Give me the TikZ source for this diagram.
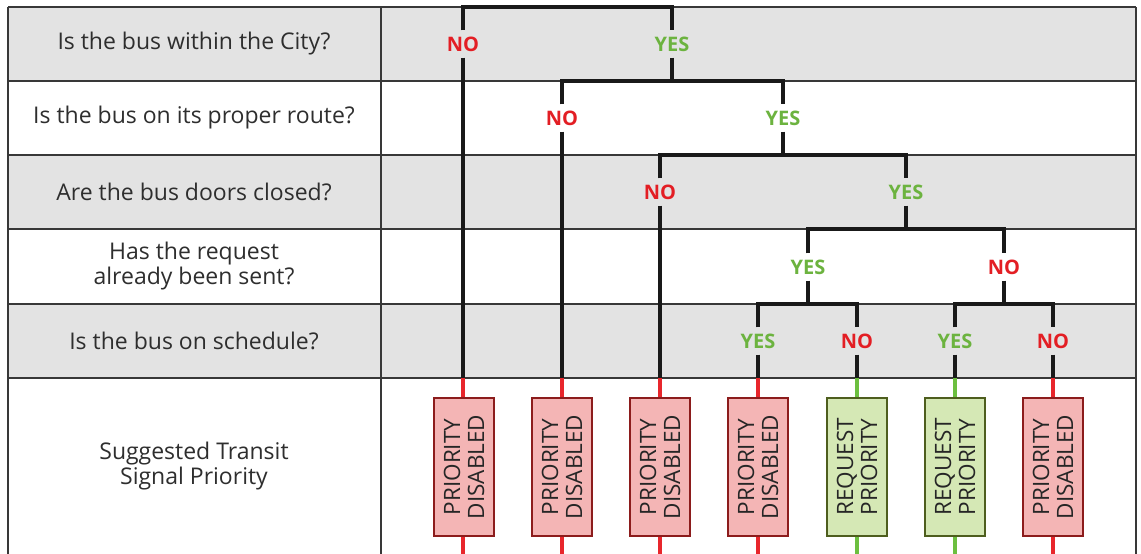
\documentclass[tikz,border=0pt]{standalone}
\usepackage{fontspec}
\setmainfont{Open Sans}
\begin{document}
\begin{tikzpicture}[x=1pt,y=-1pt,
  gridline/.style={draw=black!78,line width=1.4pt},
  rowfill/.style={fill=black!11,draw=none},
  question/.style={align=center,font=\fontsize{23}{25}\selectfont,text=black!82},
  nolab/.style={font=\bfseries\fontsize{20}{21}\selectfont,text=nored,inner sep=6pt},
  yeslab/.style={font=\bfseries\fontsize{20}{21}\selectfont,text=yesgreen,inner sep=6pt},
  tree/.style={draw=black!90,line width=3.6pt},
  redline/.style={draw=linered,line width=3.6pt},
  greenline/.style={draw=linegreen,line width=3.6pt},
  disbox/.style={draw=boxredline,fill=boxred,line width=1.5pt,minimum width=138pt,minimum height=60pt,rotate=90,align=center,font=\fontsize{22.5}{24}\selectfont,text=black!85,inner sep=0pt},
  reqbox/.style={draw=boxgreenline,fill=boxgreen,line width=1.5pt,minimum width=138pt,minimum height=60pt,rotate=90,align=center,font=\fontsize{22.5}{24}\selectfont,text=black!85,inner sep=0pt}
]
\definecolor{nored}{HTML}{E31E24}
\definecolor{yesgreen}{HTML}{6CB33F}
\definecolor{linered}{HTML}{E8262C}
\definecolor{linegreen}{HTML}{6CBF3F}
\definecolor{boxred}{HTML}{F4B5B5}
\definecolor{boxredline}{HTML}{8C1C1C}
\definecolor{boxgreen}{HTML}{D5E8B5}
\definecolor{boxgreenline}{HTML}{4E5E1E}
\useasboundingbox (0,0) rectangle (1141,554);
\fill[white] (0,0) rectangle (1141,554);
% row shading
\path[rowfill] (8,7) rectangle (1136,81);
\path[rowfill] (8,155) rectangle (1136,229);
\path[rowfill] (8,304) rectangle (1136,378);
% grid
\foreach \yy in {7,81,155,229,304,378} {\draw[gridline] (8,\yy) -- (1136,\yy);}
\draw[gridline] (8,7) -- (8,554);
\draw[gridline] (381,7) -- (381,554);
\draw[gridline] (1136,7) -- (1136,554);
% questions
\node[question] (q1) at (194,44) {Is the bus within the City?};
\node[question] (q2) at (194,118) {Is the bus on its proper route?};
\node[question] (q3) at (194,192) {Are the bus doors closed?};
\node[question] (q4) at (194,266) {Has the request\\already been sent?};
\node[question] (q5) at (194,341) {Is the bus on schedule?};
\node[question] (q6) at (194,466) {Suggested Transit\\Signal Priority};
% labels
\node[nolab] (n1) at (463,44) {NO};
\node[yeslab] (y1) at (672,44) {YES};
\node[nolab] (n2) at (562,118) {NO};
\node[yeslab] (y2) at (783,118) {YES};
\node[nolab] (n3) at (660,192) {NO};
\node[yeslab] (y3) at (906,192) {YES};
\node[yeslab] (y4) at (808,267) {YES};
\node[nolab] (n4) at (1004,267) {NO};
\node[yeslab] (y5) at (758,341) {YES};
\node[nolab] (n5) at (857,341) {NO};
\node[yeslab] (y6) at (955,341) {YES};
\node[nolab] (n6) at (1053,341) {NO};
% boxes
\node[disbox] (b1) at (464,467) {PRIORITY\\DISABLED};
\node[disbox] (b2) at (562,467) {PRIORITY\\DISABLED};
\node[disbox] (b3) at (660,467) {PRIORITY\\DISABLED};
\node[disbox] (b4) at (758,467) {PRIORITY\\DISABLED};
\node[reqbox] (b5) at (857,467) {REQUEST\\PRIORITY};
\node[reqbox] (b6) at (955,467) {REQUEST\\PRIORITY};
\node[disbox] (b7) at (1053,467) {PRIORITY\\DISABLED};
% junction coordinates
\coordinate (c0) at (567,7);
\coordinate (c1) at (672,81);
\coordinate (c2) at (783,155);
\coordinate (c3) at (906,229);
\coordinate (c4) at (808,304);
\coordinate (c5) at (1004,304);
% tree
\draw[tree] (n1.north) |- (c0) -| (y1.north);
\draw[tree] (y1.south) -- (c1);
\draw[tree] (n2.north) |- (c1) -| (y2.north);
\draw[tree] (y2.south) -- (c2);
\draw[tree] (n3.north) |- (c2) -| (y3.north);
\draw[tree] (y3.south) -- (c3);
\draw[tree] (y4.north) |- (c3) -| (n4.north);
\draw[tree] (y4.south) -- (c4);
\draw[tree] (n4.south) -- (c5);
\draw[tree] (y5.north) |- (c4) -| (n5.north);
\draw[tree] (y6.north) |- (c5) -| (n6.north);
% leaf lines
\foreach \src/\bx/\col in {n1/b1/redline,n2/b2/redline,n3/b3/redline,y5/b4/redline,n5/b5/greenline,y6/b6/greenline,n6/b7/redline} {
  \coordinate (e\bx) at (\src.center |- 0,378);
  \coordinate (f\bx) at (\src.center |- 0,554);
  \draw[tree] (\src.south) -- (e\bx);
  \draw[\col] (e\bx) -- (\src.center |- \bx.east);
  \draw[\col] (\src.center |- \bx.west) -- (f\bx);
}
\end{tikzpicture}
\end{document}
